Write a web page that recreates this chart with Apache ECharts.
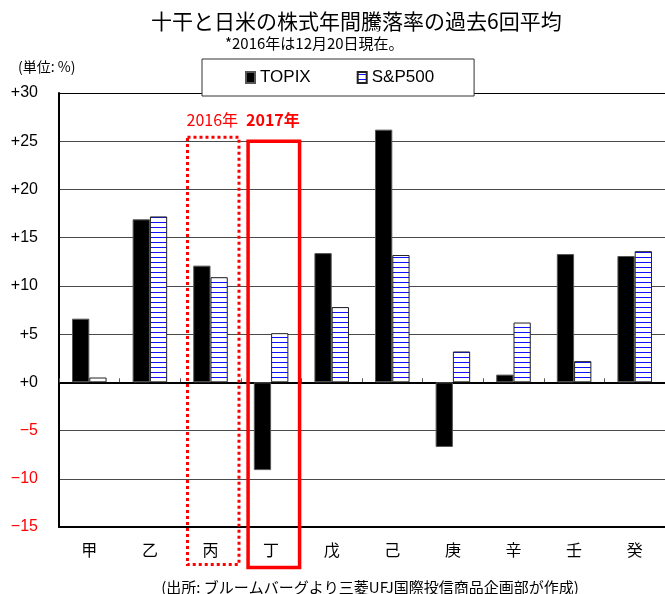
<!DOCTYPE html>
<html>
<head>
<meta charset="utf-8">
<script src="https://cdn.jsdelivr.net/npm/echarts@6/dist/echarts.min.js"></script>
<style>
  html, body { margin: 0; padding: 0; background: #fff; }
  #chart { width: 665px; height: 594px; }
</style>
</head>
<body>
<div id="chart"></div>
<script>
// 十干 (heavenly stems) and the average annual change of each market over the last 6 cycles, in %
const categories = ['甲', '乙', '丙', '丁', '戊', '己', '庚', '辛', '壬', '癸'];
const topix = [6.6, 16.9, 12.1, -9.1, 13.4, 26.2, -6.7, 0.8, 13.3, 13.1];
const sp500 = [0.5, 17.2, 10.9, 5.1, 7.8, 13.2, 3.2, 6.2, 2.2, 13.6];
const seriesNames = ['TOPIX', 'S&P500'];
const yMin = -15, yMax = 30, yStep = 5;

const CJK = '"Noto Sans CJK JP", "Noto Sans", sans-serif';
const LATIN = '"Liberation Sans", Arial, sans-serif';

// horizontal blue hatching for the S&P500 bars
function hatchPattern() {
  const c = document.createElement('canvas');
  c.width = 6; c.height = 5;
  const g = c.getContext('2d');
  g.fillStyle = '#ffffff';
  g.fillRect(0, 0, 6, 5);
  g.fillStyle = '#1010ff';
  g.fillRect(0, 2, 6, 1);
  return c;
}

const chart = echarts.init(document.getElementById('chart'), null, { renderer: 'canvas' });

// grid lines: top one black, the rest dark grey
const splitColors = [];
for (let v = yMin; v <= yMax; v += yStep) splitColors.push(v === yMax ? '#000' : '#4a4a4a');

chart.setOption({
  animation: false,
  backgroundColor: '#fff',
  title: [
    {
      text: '十干と日米の株式年間騰落率の過去6回平均',
      left: 151, top: 11, padding: 0,
      textStyle: { fontFamily: CJK, fontSize: 21, fontWeight: 'normal', color: '#000' }
    },
    {
      text: '*2016年は12月20日現在。',
      left: 225, top: 36, padding: 0,
      textStyle: { fontFamily: CJK, fontSize: 15, fontWeight: 'normal', color: '#000' }
    }
  ],
  legend: {
    data: seriesNames,
    left: 202, top: 59,
    padding: [10, 40, 10, 43],
    itemGap: 46,
    itemWidth: 9, itemHeight: 11,
    icon: 'rect',
    borderColor: '#333', borderWidth: 1,
    backgroundColor: '#fff',
    textStyle: { fontFamily: LATIN, fontSize: 17, color: '#000' }
  },
  grid: { left: 59, right: 0, top: 93, bottom: 67, containLabel: false },
  xAxis: [
    {
      // axis drawn along zero with small ticks between categories
      type: 'category', data: categories,
      axisLine: { onZero: true, lineStyle: { color: '#000', width: 2 } },
      axisTick: { show: true, inside: true, length: 4, lineStyle: { color: '#555', width: 1 } },
      axisLabel: { show: false },
      splitLine: { show: false }
    },
    {
      // category names along the bottom edge
      type: 'category', data: categories, position: 'bottom',
      axisLine: { onZero: false, lineStyle: { color: '#000', width: 2 } },
      axisTick: { show: false },
      axisLabel: { fontFamily: CJK, fontSize: 16, color: '#000', margin: 15 },
      splitLine: { show: false }
    }
  ],
  yAxis: {
    type: 'value', min: yMin, max: yMax, interval: yStep,
    axisLine: { show: true, lineStyle: { color: '#000', width: 2 } },
    axisTick: { show: false },
    axisLabel: {
      fontFamily: LATIN, fontSize: 16, margin: 21,
      color: (v) => (Number(v) < 0 ? '#ff0000' : '#000'),
      formatter: (v) => (v < 0 ? '\u2212' + (-v) : '+' + v)
    },
    splitLine: { show: true, lineStyle: { color: splitColors, width: 1 } }
  },
  series: [
    {
      name: seriesNames[0], type: 'bar', data: topix,
      xAxisIndex: 0, yAxisIndex: 0,
      barGap: '0%', barCategoryGap: '43%',
      itemStyle: { color: '#000', borderColor: '#555', borderWidth: 1 }
    },
    {
      name: seriesNames[1], type: 'bar', data: sp500,
      xAxisIndex: 0, yAxisIndex: 0,
      barGap: '0%', barCategoryGap: '43%',
      itemStyle: { color: { image: hatchPattern(), repeat: 'repeat' }, borderColor: '#222', borderWidth: 1 }
    }
  ]
});

// frames and captions for the 2016 / 2017 stems, placed through the axes
const px = (cat, val) => chart.convertToPixel({ xAxisIndex: 0, yAxisIndex: 0 }, [cat, val]);
const w = px(categories[1], 0)[0] - px(categories[0], 0)[0];

function frame(cat, topVal, bottomVal, dashed) {
  const cx = px(cat, 0)[0];
  const y1 = px(cat, topVal)[1];
  const y2 = px(cat, bottomVal)[1];
  const x1 = cx - 0.38 * w, x2 = cx + 0.47 * w;
  return {
    type: 'rect', silent: true, z: 100,
    shape: { x: x1, y: y1, width: x2 - x1, height: y2 - y1 },
    style: dashed
      ? { fill: 'none', stroke: '#ff0000', lineWidth: 3, lineDash: [3, 3] }
      : { fill: 'none', stroke: '#ff0000', lineWidth: 3.5 }
  };
}
function caption(cat, val, text, bold) {
  const p = px(cat, val);
  return {
    type: 'text', silent: true, z: 100,
    x: p[0] + 0.03 * w, y: p[1],
    style: {
      text: text, fill: '#ff0000',
      font: (bold ? 'bold ' : '') + '16px ' + CJK,
      align: 'center', verticalAlign: 'middle'
    }
  };
}

chart.setOption({
  graphic: [
    frame('丙', 25.4, -18.9, true),
    frame('丁', 25.0, -19.2, false),
    caption('丙', 27.2, '2016年', false),
    caption('丁', 27.2, '2017年', true),
    {
      type: 'text', silent: true, x: 18, y: 67,
      style: { text: '(単位: %)', fill: '#000', font: '14px ' + CJK, align: 'left', verticalAlign: 'middle' }
    },
    {
      type: 'text', silent: true, x: 370, y: 587,
      style: {
        text: '(出所: ブルームバーグより三菱UFJ国際投信商品企画部が作成)',
        fill: '#000', font: '15px ' + CJK, align: 'center', verticalAlign: 'middle'
      }
    }
  ]
});
</script>
</body>
</html>
